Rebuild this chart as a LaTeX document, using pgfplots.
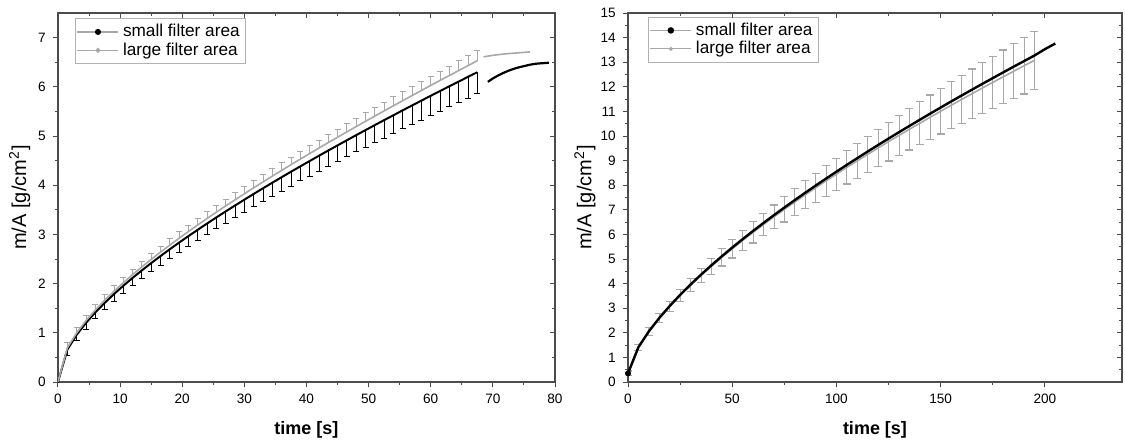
\documentclass[border=0pt]{standalone}
\usepackage{fontspec}
\setmainfont{Liberation Sans}
\usepackage{pgfplots}
\usepackage{pgfplotstable}
\pgfplotsset{compat=1.18}

% left panel: small (black, minus errors) and large (grey, plus errors) filter area
\pgfplotstableread{
x    yb     eb     yg     eg
0    0.000  0.100  0.000  0.100
1.5  0.658  0.108  0.693  0.102
3    0.959  0.115  0.998  0.105
4.5  1.202  0.123  1.246  0.107
6    1.414  0.130  1.462  0.109
7.5  1.607  0.138  1.660  0.111
9    1.786  0.145  1.843  0.114
10.5 1.955  0.153  2.017  0.116
12   2.115  0.160  2.181  0.118
13.5 2.269  0.168  2.340  0.120
15   2.417  0.175  2.492  0.123
16.5 2.560  0.183  2.640  0.125
18   2.699  0.190  2.783  0.127
19.5 2.834  0.198  2.923  0.129
21   2.966  0.205  3.059  0.132
22.5 3.095  0.213  3.193  0.134
24   3.222  0.220  3.324  0.136
25.5 3.346  0.228  3.453  0.138
27   3.468  0.235  3.579  0.141
28.5 3.588  0.243  3.704  0.143
30   3.706  0.250  3.826  0.145
31.5 3.823  0.258  3.948  0.147
33   3.938  0.265  4.067  0.150
34.5 4.051  0.273  4.185  0.152
36   4.163  0.280  4.301  0.154
37.5 4.274  0.288  4.417  0.156
39   4.383  0.295  4.530  0.159
40.5 4.491  0.303  4.643  0.161
42   4.599  0.310  4.755  0.163
43.5 4.705  0.318  4.866  0.165
45   4.810  0.325  4.975  0.168
46.5 4.914  0.333  5.084  0.170
48   5.018  0.340  5.192  0.172
49.5 5.120  0.348  5.299  0.174
51   5.222  0.355  5.405  0.177
52.5 5.323  0.363  5.511  0.179
54   5.423  0.370  5.615  0.181
55.5 5.523  0.378  5.720  0.183
57   5.622  0.385  5.823  0.186
58.5 5.720  0.393  5.926  0.188
60   5.818  0.400  6.028  0.190
61.5 5.915  0.408  6.130  0.192
63   6.011  0.415  6.230  0.195
64.5 6.107  0.423  6.331  0.197
66   6.203  0.430  6.431  0.199
67.5 6.297  0.438  6.530  0.201
}\leftdata

% right panel, small filter area
\pgfplotstableread{
x   y
0   0.350
5   1.416
10  2.059
15  2.603
20  3.090
25  3.541
30  3.962
35  4.362
40  4.744
45  5.111
50  5.465
55  5.808
60  6.141
65  6.465
70  6.782
75  7.091
80  7.394
85  7.692
90  7.983
95  8.269
100 8.550
105 8.828
110 9.100
115 9.369
120 9.635
125 9.896
130 10.155
135 10.410
140 10.661
145 10.911
150 11.157
155 11.402
160 11.643
165 11.882
170 12.120
175 12.354
180 12.586
185 12.817
190 13.045
195 13.272
200 13.530
205 13.760
}\rightsmall

% right panel, large filter area
\pgfplotstableread{
x   y      e
0   0.350  0.100
5   1.411  0.128
10  2.049  0.155
15  2.588  0.183
20  3.070  0.210
25  3.516  0.238
30  3.932  0.265
35  4.327  0.293
40  4.704  0.320
45  5.066  0.348
50  5.415  0.375
55  5.753  0.403
60  6.081  0.430
65  6.400  0.458
70  6.712  0.485
75  7.016  0.513
80  7.314  0.540
85  7.607  0.568
90  7.893  0.595
95  8.174  0.623
100 8.450  0.650
105 8.723  0.678
110 8.990  0.705
115 9.254  0.733
120 9.515  0.760
125 9.771  0.788
130 10.025 0.815
135 10.275 0.843
140 10.521 0.870
145 10.766 0.898
150 11.007 0.925
155 11.247 0.953
160 11.483 0.980
165 11.717 1.008
170 11.950 1.035
175 12.179 1.063
180 12.406 1.090
185 12.632 1.118
190 12.855 1.145
195 13.077 1.173
}\rightlarge

\definecolor{lgrey}{gray}{0.66}

\begin{document}
\begin{tikzpicture}
\pgfplotsset{
  panel/.style={
    scale only axis, height=184.5pt,
    axis line style={black!70, line width=0.7pt},
    tick style={black!70, line width=0.5pt},
    major tick length=2.6pt, minor tick length=1.5pt,
    tick align=outside, xtick pos=left, ytick pos=left,
    minor x tick num=1, minor y tick num=1,
    ticklabel style={font=\fontsize{6.8}{7}\selectfont},
    /pgf/number format/assume math mode=true,
    xlabel style={font=\fontsize{9}{10}\selectfont\bfseries},
    ylabel style={font=\fontsize{10}{11}\selectfont},
    legend style={draw=black!30, line width=0.4pt, fill=white,
      font=\fontsize{8.6}{9}\selectfont, inner sep=0.8pt, row sep=-2.5pt,
      legend cell align=left},
  },
  mirror/.style={
    scale only axis, height=184.5pt,
    axis line style={draw=none},
    tick style={black!70, line width=0.5pt},
    major tick length=2.6pt, minor tick length=1.5pt,
    tick align=inside, xtick pos=right, ytick pos=right,
    minor x tick num=1, minor y tick num=1,
    xticklabels={}, yticklabels={},
  },
  smallimg/.style={legend image code/.code={
    \draw[lgrey, line width=0.6pt] (0cm,0cm) -- (0.72cm,0cm);
    \fill[black] (0.36cm,0cm) circle (1pt);}},
  largeimg/.style={legend image code/.code={
    \draw[lgrey, line width=0.6pt] (0cm,0cm) -- (0.72cm,0cm);
    \fill[lgrey] (0.36cm,0cm) circle (0.8pt);}},
}

% ---------- left panel ----------
\begin{axis}[panel, at={(29pt,29.5pt)}, anchor=south west, width=248.5pt,
  xmin=0, xmax=80, ymin=0, ymax=7.5,
  xtick={0,10,...,80}, ytick={0,1,...,7},
  xlabel={time [s]}, ylabel={m/A [g/cm\textsuperscript{2}]},
  xlabel style={at={(axis description cs:0.5,-0.13)}, anchor=center},
  ylabel style={at={(axis description cs:-0.077,0.5)}, anchor=center},
  legend style={at={(axis description cs:0.034,0.986)}, anchor=north west},
]
\addplot[black, line width=1pt, smallimg,
  error bars/.cd, y dir=minus, y explicit,
  error bar style={black, line width=0.4pt},
  error mark options={rotate=90, mark size=1.5pt, line width=0.4pt}]
  table[x=x, y=yb, y error=eb] {\leftdata};
\addlegendentry{small filter area}
\addplot[lgrey, line width=0.8pt, largeimg,
  error bars/.cd, y dir=plus, y explicit,
  error bar style={lgrey, line width=0.4pt},
  error mark options={rotate=90, mark size=1.5pt, line width=0.4pt}]
  table[x=x, y=yg, y error=eg] {\leftdata};
\addlegendentry{large filter area}
% continuations after the error-bar range
\addplot[lgrey, line width=0.8pt, forget plot] coordinates {
  (68.5,6.61) (70,6.64) (72,6.67) (74,6.69) (76,6.71)};
\addplot[black, line width=1.1pt, forget plot, smooth] coordinates {
  (69.2,6.10) (70,6.17) (71,6.24) (72,6.30) (73,6.35) (74,6.39)
  (75,6.42) (76,6.45) (77,6.47) (78,6.48) (79,6.49)};
\end{axis}
\begin{axis}[mirror, at={(29pt,29.5pt)}, anchor=south west, width=248.5pt,
  xmin=0, xmax=80, ymin=0, ymax=7.5,
  xtick={0,10,...,80}, ytick={0,1,...,7}]
\end{axis}

% ---------- right panel ----------
\begin{axis}[panel, at={(314pt,29.5pt)}, anchor=south west, width=247pt,
  xmin=0, xmax=237, ymin=0, ymax=15,
  xtick={0,50,...,200}, ytick={0,1,...,15},
  xlabel={time [s]}, ylabel={m/A [g/cm\textsuperscript{2}]},
  xlabel style={at={(axis description cs:0.5,-0.13)}, anchor=center},
  ylabel style={at={(axis description cs:-0.087,0.5)}, anchor=center},
  legend style={at={(axis description cs:0.04,0.99)}, anchor=north west},
]
\addplot[lgrey, line width=0.8pt, largeimg, forget plot,
  error bars/.cd, y dir=both, y explicit,
  error bar style={lgrey, line width=0.4pt},
  error mark options={rotate=90, mark size=2pt, line width=0.6pt}]
  table[x=x, y=y, y error=e] {\rightlarge};
\addplot[black, line width=1.2pt, smallimg]
  table[x=x, y=y] {\rightsmall};
\addlegendentry{small filter area}
\addlegendimage{largeimg}
\addlegendentry{large filter area}
\addplot[black, mark=*, mark size=1.3pt, only marks, forget plot]
  coordinates {(0,0.35)};
\end{axis}
\begin{axis}[mirror, at={(314pt,29.5pt)}, anchor=south west, width=247pt,
  xmin=0, xmax=237, ymin=0, ymax=15,
  xtick={0,50,...,200}, ytick={0,1,...,15}]
\end{axis}

\pgfresetboundingbox
\useasboundingbox (0,0) rectangle (562.5pt,220.5pt);
\end{tikzpicture}
\end{document}
